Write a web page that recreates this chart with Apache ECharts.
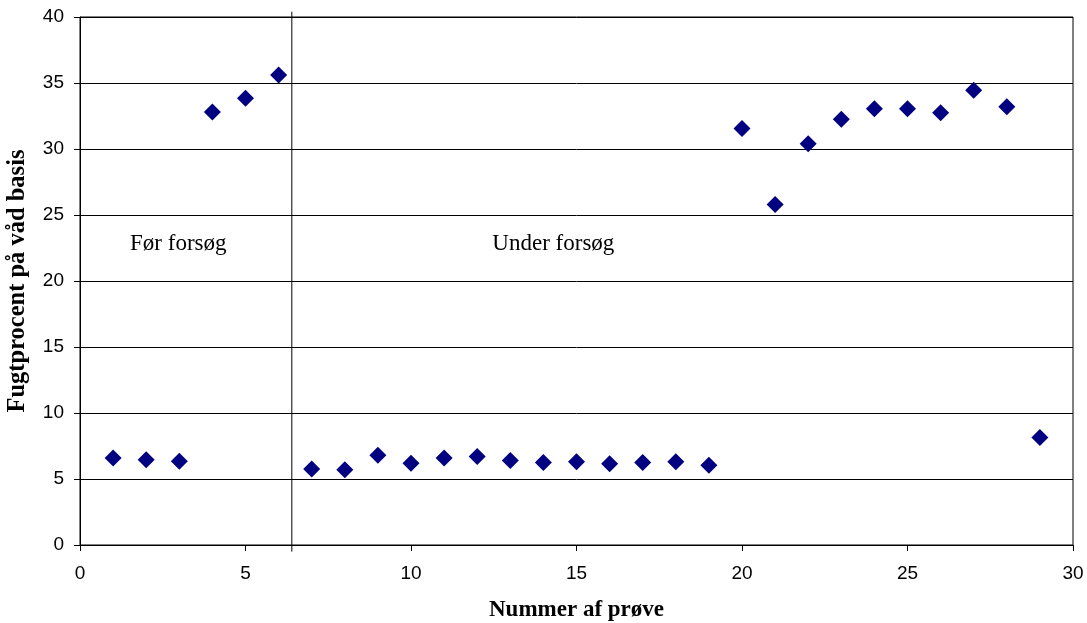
<!DOCTYPE html>
<html><head><meta charset="utf-8">
<script src="https://cdn.jsdelivr.net/npm/echarts@6/dist/echarts.min.js"></script>
<style>html,body{margin:0;padding:0;background:#fff}#c{width:1087px;height:623px}</style>
</head><body><div id="c"></div>
<script>
const sampleNo = [1,2,3,4,5,6,7,8,9,10,11,12,13,14,15,16,17,18,19,20,21,22,23,24,25,26,27,28,29];
const moisture = [6.6,6.45,6.35,32.8,33.85,35.6,5.75,5.7,6.8,6.2,6.6,6.7,6.4,6.25,6.3,6.15,6.25,6.3,6.05,31.55,25.8,30.4,32.25,33.05,33.05,32.75,34.45,33.2,8.15];
const dividerX = [6.4, 6.4];
const dividerY = [40.4, -0.5];
const labelTexts = ['Før forsøg', 'Under forsøg'];
const labelX = [2.97, 14.3];
const labelY = [22.8, 22.8];

const chart = echarts.init(document.getElementById('c'), null, {renderer:'canvas'});
chart.setOption({
  animation: false,
  grid: {left: 80, right: 14, top: 17, bottom: 78, show: true, borderColor: '#000', borderWidth: 1,
    containLabel: false, outerBoundsMode: 'none'},
  xAxis: {
    type: 'value', min: 0, max: 30, interval: 5,
    name: 'Nummer af prøve', nameLocation: 'middle', nameGap: 54,
    nameTextStyle: {fontFamily: 'Liberation Serif', fontWeight: 'bold', fontSize: 23, color: '#000'},
    axisLine: {lineStyle: {color: '#000', width: 1}},
    axisTick: {show: true, length: 6, lineStyle: {color: '#000'}},
    axisLabel: {fontFamily: 'Liberation Sans', fontSize: 19, color: '#000', margin: 19},
    splitLine: {show: false}
  },
  yAxis: {
    type: 'value', min: 0, max: 40, interval: 5,
    name: 'Fugtprocent på våd basis', nameLocation: 'middle', nameGap: 50,
    nameTextStyle: {fontFamily: 'Liberation Serif', fontWeight: 'bold', fontSize: 24.5, color: '#000'},
    axisLine: {show: true, lineStyle: {color: '#000', width: 1}},
    axisTick: {show: true, length: 6, lineStyle: {color: '#000'}},
    axisLabel: {fontFamily: 'Liberation Sans', fontSize: 19, color: '#000', margin: 16},
    splitLine: {show: true, lineStyle: {color: '#000', width: 1}}
  },
  series: [
    {
      type: 'scatter', symbol: 'diamond', symbolSize: 17,
      itemStyle: {color: '#000080', opacity: 1},
      data: sampleNo.map((x, i) => [x, moisture[i]]), z: 5
    },
    {
      type: 'line', clip: false, symbol: 'none',
      lineStyle: {color: '#000', width: 1},
      data: dividerX.map((x, i) => [x, dividerY[i]]), z: 4
    },
    {
      type: 'scatter', symbolSize: 0, itemStyle: {opacity: 1},
      data: labelTexts.map((t, i) => ({value: [labelX[i], labelY[i]], name: t})),
      label: {show: true, position: 'inside', formatter: p => p.name,
        fontFamily: 'Liberation Serif', fontSize: 23, color: '#000'}
    }
  ]
});
</script></body></html>
